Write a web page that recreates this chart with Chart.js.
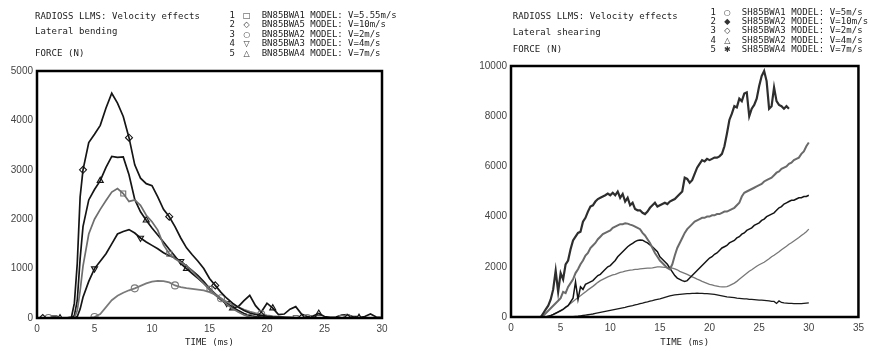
<!DOCTYPE html>
<html>
<head>
<meta charset="utf-8">
<script src="https://cdn.jsdelivr.net/npm/chart.js@4"></script>
<style>
  html, body { margin: 0; padding: 0; background: #fff; }
  #wrap { position: relative; width: 869px; height: 351px; overflow: hidden; background: #fff; }
  canvas { position: absolute; top: 0; }
  .txt { position: absolute; font-family: "DejaVu Sans Mono", "Liberation Mono", monospace; font-size: 9px; line-height: 10px; color: #222; white-space: pre; }
  .leg { position: absolute; font-family: "DejaVu Sans Mono", "Liberation Mono", monospace; font-size: 9px; color: #222; white-space: pre; }
  .leg .row { position: relative; height: 9.4px; line-height: 9.4px; }
  .leg .num { position: absolute; width: 8px; text-align: center; }
  .leg .sym { position: absolute; width: 10px; text-align: center; font-family: "DejaVu Sans", sans-serif; font-size: 8px; color: #333; }
  .leg .lab { position: absolute; }
</style>
</head>
<body>
<div id="wrap">
  <canvas id="c1" width="440" height="351" style="left:0px"></canvas>
  <canvas id="c2" width="429" height="351" style="left:440px"></canvas>
  <div class="txt" data-cw="5.5" style="left:35px; top:10.7px">RADIOSS LLMS: Velocity effects</div>
  <div class="txt" data-cw="5.5" style="left:35px; top:25.7px">Lateral bending</div>
  <div class="txt" data-cw="5.5" style="left:35px; top:48px">FORCE (N)</div>
  <div class="txt" data-cw="5.5" style="left:512.7px; top:10.7px">RADIOSS LLMS: Velocity effects</div>
  <div class="txt" data-cw="5.5" style="left:512.7px; top:26.7px">Lateral shearing</div>
  <div class="txt" data-cw="5.5" style="left:512.7px; top:44px">FORCE (N)</div>
  <div class="leg" id="leg1" style="left:0px; top:11px"></div>
  <div class="leg" id="leg2" style="left:0px; top:7.6px"></div>
</div>
<script>
// ---------------- DATA: Lateral bending (left) ----------------
const T_BEND = [0,0.5,1,1.5,2,2.5,3,3.25,3.5,3.75,4,4.5,5,5.5,6,6.5,7,7.5,8,8.5,9,9.5,10,10.5,11,11.5,12,12.5,13,13.5,14,14.5,15,15.5,16,16.5,17,17.5,18,18.5,19,19.5,20,20.5,21,21.5,22,22.5,23,23.5,24,24.5,25,25.5,26,26.5,27,27.5,28,28.5,29,29.5,30];

const BEND_LABELS = ['BN85BWA1 MODEL: V=5.55m/s','BN85BWA5 MODEL: V=10m/s','BN85BWA2 MODEL: V=2m/s','BN85BWA3 MODEL: V=4m/s','BN85BWA4 MODEL: V=7m/s'];
const BEND_SYMBOLS = ['\u25A1','\u25C7','\u25CB','\u25BD','\u25B3'];

const BEND_V555 = [0,0,0,0,0,0,0,0,150,550,1050,1700,2000,2200,2380,2550,2620,2520,2360,2390,2280,2080,1950,1780,1480,1300,1200,1130,1060,950,820,700,590,480,380,280,190,120,60,20,10,0,0,0,0,0,0,0,0,0,0,0,0,0,0,0,0,0,0,0,0,0,0];
const BEND_V10  = [0,0,0,0,0,0,20,300,1100,2450,3000,3550,3720,3900,4250,4550,4350,4080,3650,3100,2830,2720,2680,2450,2200,2050,1850,1620,1420,1280,1150,1000,800,660,520,400,300,220,150,100,70,50,35,25,20,15,10,5,0,0,0,0,0,0,0,0,0,0,0,0,0,0,0];
const BEND_V2   = [0,0,0,0,0,0,0,0,0,0,0,0,20,80,220,360,450,510,560,600,650,700,735,750,745,720,660,625,605,590,575,560,520,470,400,330,270,220,170,130,100,75,55,40,30,20,15,10,5,0,0,0,0,0,0,0,0,0,0,0,0,0,0];
const BEND_V4   = [0,0,0,0,0,0,0,0,30,180,420,740,1000,1150,1300,1500,1700,1750,1790,1720,1620,1540,1470,1400,1320,1260,1220,1150,1050,960,860,740,600,490,390,300,220,150,90,50,30,20,10,0,0,0,0,0,0,0,0,0,0,0,0,0,0,0,0,0,0,0,0];
const BEND_V7   = [0,0,0,0,0,0,0,50,350,1200,1850,2390,2600,2780,3050,3270,3250,3260,2900,2400,2150,1980,1820,1680,1540,1390,1250,1100,1000,900,800,700,580,470,370,280,200,230,350,460,250,120,300,200,70,80,180,230,80,30,40,90,30,15,20,60,70,20,10,30,80,20,10];

// marker times (ms) on each bending curve
const BEND_MARKS = [[1.5,7.5,11.5,15,18.5,22.5,26.5],[0.5,4,8,11.5,15.5,19.5,23,27],[1,5,8.5,12,16,19.5,23.5,27],[1.5,5,9,12.5,16.5,20,24,27.5],[2,5.5,9.5,13,17,20.5,24.5,28]];

// ---------------- DATA: Lateral shearing (right) ----------------
const T_SHEAR = [0,0.25,0.5,0.75,1,1.25,1.5,1.75,2,2.25,2.5,2.75,3,3.25,3.5,3.75,4,4.25,4.5,4.75,5,5.25,5.5,5.75,6,6.25,6.5,6.75,7,7.25,7.5,7.75,8,8.25,8.5,8.75,9,9.25,9.5,9.75,10,10.25,10.5,10.75,11,11.25,11.5,11.75,12,12.25,12.5,12.75,13,13.25,13.5,13.75,14,14.25,14.5,14.75,15,15.25,15.5,15.75,16,16.25,16.5,16.75,17,17.25,17.5,17.75,18,18.25,18.5,18.75,19,19.25,19.5,19.75,20,20.25,20.5,20.75,21,21.25,21.5,21.75,22,22.25,22.5,22.75,23,23.25,23.5,23.75,24,24.25,24.5,24.75,25,25.25,25.5,25.75,26,26.25,26.5,26.75,27,27.25,27.5,27.75,28,28.25,28.5,28.75,29,29.25,29.5,29.75,30];

const SHEAR_LABELS = ['SH85BWA1 MODEL: V=5m/s','SH85BWA2 MODEL: V=10m/s','SH85BWA3 MODEL: V=2m/s','SH85BWA2 MODEL: V=4m/s','SH85BWA4 MODEL: V=7m/s'];
const SHEAR_SYMBOLS = ['\u25CB','\u25C6','\u25C7','\u25B3','\u2731'];

const SHEAR_V5 = [0,0,0,0, 0,0,0,0, 0,0,0,0, 0,0,0,30, 60,100,150,200, 250,300,380,450, 600,750,1400,700, 1200,1100,1300,1350, 1400,1450,1550,1650, 1700,1800,1900,2000, 2050,2150,2250,2400, 2500,2600,2700,2800, 2870,2930,3000,3050, 3070,3060,3000,2950, 2870,2800,2700,2600, 2400,2300,2200,2100, 1950,1800,1650,1550, 1500,1450,1420,1450, 1550,1650,1750,1850, 1950,2050,2150,2250, 2350,2400,2500,2550, 2650,2750,2800,2850, 2950,3000,3050,3150, 3200,3300,3350,3450, 3500,3550,3650,3700, 3750,3850,3900,4000, 4050,4100,4150,4250, 4350,4400,4500,4550, 4600,4650,4650,4700, 4750,4750,4800,4800, 4850];
const SHEAR_V10 = [0,0,0,0, 0,0,0,0, 0,0,0,0, 0,150,300,450, 700,1100,1850,1000, 1750,1500,2100,2250, 2700,3050,3200,3350, 3400,3800,3950,4200, 4400,4450,4600,4700, 4750,4800,4850,4920, 4850,4950,4850,5000, 4750,4900,4600,4750, 4450,4550,4300,4250, 4250,4150,4100,4200, 4350,4450,4550,4400, 4450,4500,4550,4500, 4600,4650,4700,4800, 4900,5000,5550,5500, 5350,5450,5700,5950, 6100,6250,6200,6300, 6250,6300,6350,6350, 6400,6500,6800,7300, 7850,8100,8400,8350, 8700,8600,8900,8950, 8000,8300,8450,8700, 9200,9600,9800,9400, 8300,8400,9150,8600, 8450,8400,8300,8400, 8300,null,null,null, null,null,null,null, null];
const SHEAR_V2 = [0,0,0,0, 0,0,0,0, 0,0,0,0, 0,0,0,0, 0,0,0,0, 0,0,0,0, 0,10,20,30, 45,60,75,90, 105,120,140,160, 180,200,220,240, 260,280,300,320, 340,360,380,410, 430,450,480,500, 530,550,580,600, 630,650,680,700, 720,750,780,810, 840,860,880,890, 900,910,920,930, 930,940,940,950, 940,940,930,930, 920,910,900,880, 860,840,820,800, 790,780,770,750, 740,730,720,720, 700,700,690,680, 670,670,660,650, 640,620,620,540, 640,580,560,550, 540,540,530,530, 530,530,540,550, 560];
const SHEAR_V4 = [0,0,0,0, 0,0,0,0, 0,0,0,0, 0,0,0,20, 50,100,150,200, 260,320,400,460, 540,620,700,780, 850,930,1000,1080, 1150,1220,1300,1380, 1450,1500,1550,1600, 1640,1680,1700,1740, 1780,1800,1830,1850, 1870,1880,1900,1900, 1920,1930,1940,1950, 1950,1960,1980,2000, 2000,1990,1980,1970, 1960,1950,1920,1880, 1820,1780,1740,1700, 1650,1600,1560,1510, 1470,1420,1380,1340, 1300,1280,1250,1230, 1210,1200,1200,1210, 1250,1300,1350,1420, 1500,1580,1660,1740, 1820,1880,1950,2020, 2080,2130,2180,2250, 2320,2400,2460,2530, 2600,2680,2750,2820, 2900,2960,3030,3100, 3170,3250,3320,3400, 3500];
const SHEAR_V7 = [0,0,0,0, 0,0,0,0, 0,0,0,0, 0,50,150,250, 350,450,550,650, 750,1000,950,1200, 1350,1500,1750,1900, 2100,2250,2450,2550, 2750,2850,2950,3100, 3200,3300,3350,3400, 3450,3550,3600,3650, 3700,3700,3730,3720, 3680,3650,3600,3550, 3500,3350,3250,3100, 2950,2750,2550,2400, 2250,2150,2050,1950, 1900,2100,2450,2750, 2950,3150,3350,3500, 3600,3700,3800,3850, 3900,3950,3950,4000, 4000,4050,4050,4100, 4100,4150,4200,4200, 4250,4300,4350,4450, 4550,4800,4950,5000, 5050,5100,5150,5200, 5250,5300,5400,5450, 5500,5550,5650,5750, 5800,5900,5950,6000, 6100,6150,6250,6300, 6350,6500,6600,6800, 6950];

// ---------------- helpers ----------------
function pts(T, F) { return T.map((t, i) => ({ x: t, y: F[i] })); }

const boxPlugin = {
  id: 'plotBox',
  afterDatasetsDraw(chart) {
    const { ctx, chartArea: a } = chart;
    ctx.save();
    ctx.lineWidth = 2.5;
    ctx.strokeStyle = '#000';
    ctx.strokeRect(a.left, a.top, a.right - a.left, a.bottom - a.top);
    ctx.restore();
  }
};

const tickFont = { family: '"Liberation Sans", Arial, sans-serif', size: 10 };
const monoFont = { family: '"DejaVu Sans Mono", "Liberation Mono", monospace', size: 9 };

function axes(xMax, xStep, yMax, yStep, yWidth, xHeight) {
  return {
    x: {
      type: 'linear', min: 0, max: xMax,
      ticks: { stepSize: xStep, autoSkip: false, font: tickFont, color: '#444', padding: 5, maxRotation: 0, callback: v => String(v) },
      grid: { display: false, drawTicks: false },
      border: { display: false },
      title: { display: true, text: 'TIME (ms)', font: monoFont, color: '#222', padding: { top: 0, bottom: 3 } },
      afterFit: s => { s.height = xHeight; }
    },
    y: {
      type: 'linear', min: 0, max: yMax,
      ticks: { stepSize: yStep, autoSkip: false, font: tickFont, color: '#444', padding: 4, callback: v => String(v) },
      grid: { display: false, drawTicks: false },
      border: { display: false },
      afterFit: s => { s.width = yWidth; }
    }
  };
}

// ---------------- left chart ----------------
const BEND_SERIES = [BEND_V555, BEND_V10, BEND_V2, BEND_V4, BEND_V7];
const BEND_COLORS = ['#6e6e6e', '#151515', '#7a7a7a', '#151515', '#151515'];
const BEND_STYLES = ['rect', 'rectRot', 'circle', 'triangle', 'triangle'];
const BEND_ROT = [0, 0, 0, 180, 0];

new Chart(document.getElementById('c1'), {
  type: 'line',
  data: {
    datasets: BEND_SERIES.map((F, k) => ({
      label: BEND_LABELS[k],
      data: pts(T_BEND, F),
      borderColor: BEND_COLORS[k],
      borderWidth: 1.7,
      tension: 0,
      fill: false,
      pointStyle: BEND_STYLES[k],
      pointRotation: BEND_ROT[k],
      pointBorderColor: BEND_COLORS[k],
      pointBackgroundColor: 'rgba(255,255,255,0)',
      pointBorderWidth: 1.1,
      pointRadius: ctx => (ctx.raw && BEND_MARKS[k].includes(ctx.raw.x)) ? 3.5 : 0,
      pointHoverRadius: 0
    }))
  },
  options: {
    animation: false, responsive: false,
    layout: { padding: { top: 71, right: 58, left: 0, bottom: 0 } },
    plugins: { legend: { display: false }, tooltip: { enabled: false } },
    scales: axes(30, 5, 5000, 1000, 37, 33)
  },
  plugins: [boxPlugin]
});

// ---------------- right chart ----------------
const SHEAR_SERIES = [SHEAR_V10, SHEAR_V7, SHEAR_V5, SHEAR_V4, SHEAR_V2];
const SHEAR_SERIES_LABELS = [SHEAR_LABELS[1], SHEAR_LABELS[4], SHEAR_LABELS[0], SHEAR_LABELS[3], SHEAR_LABELS[2]];
const SHEAR_COLORS = ['#2e2e2e', '#6a6a6a', '#141414', '#777777', '#1a1a1a'];
const SHEAR_WIDTHS = [2.2, 2.0, 1.5, 1.3, 1.3];

new Chart(document.getElementById('c2'), {
  type: 'line',
  data: {
    datasets: SHEAR_SERIES.map((F, k) => ({
      label: SHEAR_SERIES_LABELS[k],
      data: pts(T_SHEAR, F),
      borderColor: SHEAR_COLORS[k],
      borderWidth: SHEAR_WIDTHS[k],
      tension: 0,
      fill: false,
      pointRadius: 0,
      pointHoverRadius: 0,
      spanGaps: false
    }))
  },
  options: {
    animation: false, responsive: false,
    layout: { padding: { top: 66, right: 9, left: 0, bottom: 0 } },
    plugins: { legend: { display: false }, tooltip: { enabled: false } },
    scales: axes(35, 5, 10000, 2000, 71, 34)
  },
  plugins: [boxPlugin]
});

// ---------------- legends (HTML text) ----------------
function buildLegend(el, labels, symbols, numX, symX, labX, cw) {
  labels.forEach((lab, i) => {
    const row = document.createElement('div');
    row.className = 'row';
    const n = document.createElement('span'); n.className = 'num'; n.style.left = (numX - 4) + 'px'; n.textContent = String(i + 1);
    const s = document.createElement('span'); s.className = 'sym'; s.style.left = (symX - 5) + 'px'; s.textContent = symbols[i];
    const l = document.createElement('span'); l.className = 'lab'; l.style.left = labX + 'px'; l.textContent = lab; l.dataset.cw = cw;
    row.appendChild(n); row.appendChild(s); row.appendChild(l);
    el.appendChild(row);
  });
}
buildLegend(document.getElementById('leg1'), BEND_LABELS, BEND_SYMBOLS, 232.3, 246.7, 261.7, 5.4);
buildLegend(document.getElementById('leg2'), SHEAR_LABELS, SHEAR_SYMBOLS, 713.3, 727.3, 741.7, 5.5);

// fit monospace text to the character pitch of the reference
document.querySelectorAll('[data-cw]').forEach(el => {
  const n = el.textContent.length;
  el.style.letterSpacing = '0px';
  const w = el.getBoundingClientRect().width;
  const target = parseFloat(el.dataset.cw) * n;
  el.style.letterSpacing = ((target - w) / n) + 'px';
});
</script>
</body>
</html>
